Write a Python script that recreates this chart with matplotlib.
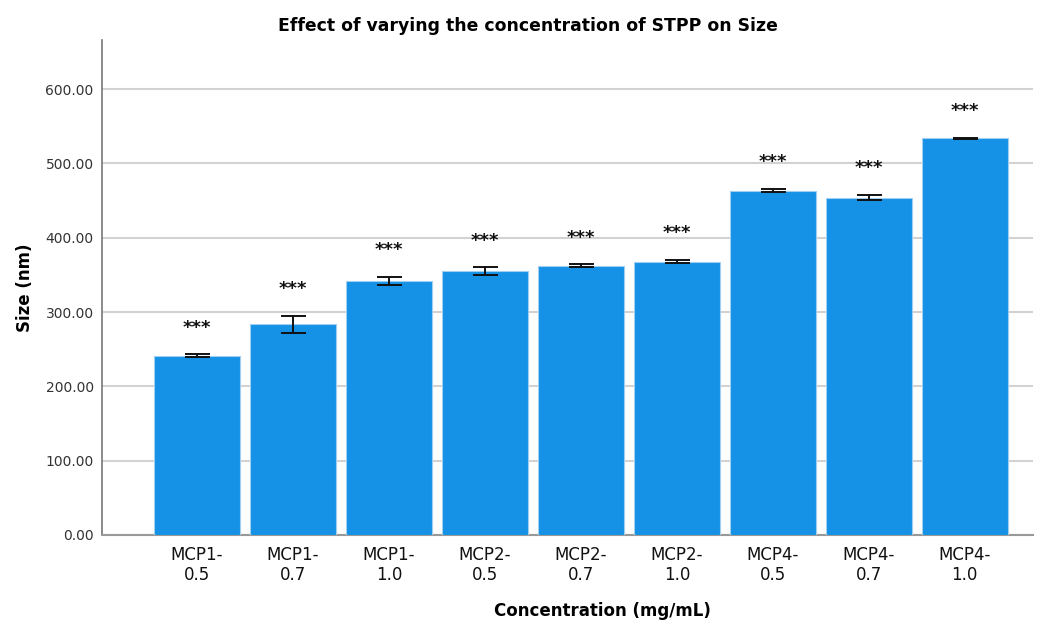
import numpy as np
import matplotlib
matplotlib.use('Agg')
import matplotlib.pyplot as plt

# data
labels = ["MCP1-\n0.5", "MCP1-\n0.7", "MCP1-\n1.0",
          "MCP2-\n0.5", "MCP2-\n0.7", "MCP2-\n1.0",
          "MCP4-\n0.5", "MCP4-\n0.7", "MCP4-\n1.0"]
size_nm = [241.0, 283.5, 342.0, 355.0, 362.0, 367.8, 463.4, 454.0, 533.5]
size_err = [2.0, 11.2, 5.5, 5.0, 2.0, 2.0, 2.5, 3.4, 1.0]
signif = ["***"] * 9

bar_col = '#1591e6'

fig = plt.figure(figsize=(10.46, 6.25), dpi=100)
ax = fig.add_axes([0.0975, 0.144, 0.89, 0.792])

x = np.arange(len(labels))
ax.bar(x, size_nm, width=0.896, color=bar_col, edgecolor='#9fcff3',
       linewidth=0.8, zorder=3)
ax.errorbar(x, size_nm, yerr=size_err, fmt='none', ecolor='#111111',
            elinewidth=1.4, capsize=9, capthick=1.4, zorder=4)

for xi, v, e, s in zip(x, size_nm, size_err, signif):
    ax.text(xi, v + e + 36, s, ha='center', va='center',
            fontsize=13, fontweight='bold', color='#111111', zorder=5)

ax.set_xlim(-0.99, 8.71)
ax.set_ylim(0, 666)
ax.set_yticks(np.arange(0, 601, 100))
ax.set_yticklabels(["%.2f" % t for t in np.arange(0, 601, 100)])
ax.set_xticks(x)
ax.set_xticklabels(labels, fontsize=12, linespacing=1.1, color='#111111')
ax.tick_params(axis='y', length=0, pad=6, labelsize=10, labelcolor='#333333')
ax.tick_params(axis='x', length=0, pad=8)

ax.grid(axis='y', color='#d2d2d2', linewidth=1.5, zorder=0)
ax.set_axisbelow(True)
for sp in ['top', 'right']:
    ax.spines[sp].set_visible(False)
ax.spines['left'].set_color('#777777')
ax.spines['bottom'].set_color('#999999')
ax.spines['left'].set_linewidth(1.2)
ax.spines['bottom'].set_linewidth(1.5)

fig.text(0.505, 0.958, "Effect of varying the concentration of STPP on Size",
         fontsize=12.4, fontweight='bold', ha='center', va='center')
ax.set_ylabel("Size (nm)", fontsize=12, fontweight='bold')
ax.set_xlabel("Concentration (mg/mL)", fontsize=12, fontweight='bold')
ax.yaxis.set_label_coords(-0.073, 0.5)
ax.xaxis.set_label_coords(0.538, -0.135)

fig.savefig("out.png", dpi=100)
